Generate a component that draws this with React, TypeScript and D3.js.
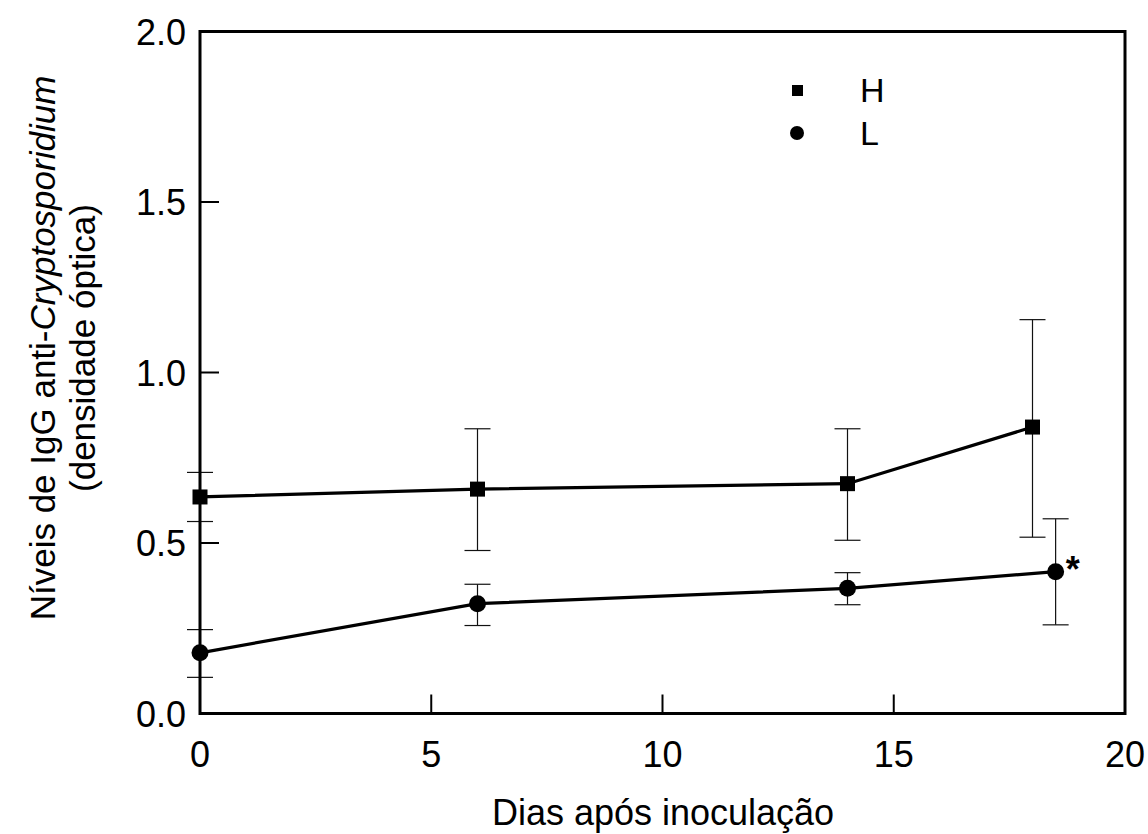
import React from "react";
import * as d3 from "d3";

// Days after inoculation and mean IgG optical density, with SD bounds
const daysH = [0, 6, 14, 18];
const meanH = [0.635, 0.658, 0.674, 0.84];
const lowH = [0.563, 0.478, 0.508, 0.517];
const highH = [0.707, 0.835, 0.835, 1.155];

const daysL = [0, 6, 14, 18.5];
const meanL = [0.178, 0.322, 0.367, 0.416];
const lowL = [0.106, 0.258, 0.319, 0.26];
const highL = [0.246, 0.379, 0.413, 0.571];

const xTicks = [0, 5, 10, 15, 20];
const yTicks = [0, 0.5, 1.0, 1.5, 2.0];
const legendLabels = ["H", "L"];

const W = 1148;
const H = 834;
const FONT = "'Liberation Sans', Arial, Helvetica, sans-serif";

export default function App() {
  const x = d3.scaleLinear().domain([0, 20]).range([200, 1125]);
  const y = d3.scaleLinear().domain([0, 2]).range([713.5, 31.5]);

  const line = d3
    .line<[number, number]>()
    .x((d) => x(d[0]))
    .y((d) => y(d[1]));

  const ptsH: [number, number][] = daysH.map((d, i) => [d, meanH[i]]);
  const ptsL: [number, number][] = daysL.map((d, i) => [d, meanL[i]]);

  const capW = 13;
  const errBars = (days: number[], lo: number[], hi: number[], key: string) =>
    days.map((d, i) => {
      const cx = x(d);
      return (
        <g key={key + i} stroke="#111" strokeWidth={1.2}>
          <line x1={cx} x2={cx} y1={y(lo[i])} y2={y(hi[i])} />
          <line x1={cx - capW} x2={cx + capW} y1={y(lo[i])} y2={y(lo[i])} />
          <line x1={cx - capW} x2={cx + capW} y1={y(hi[i])} y2={y(hi[i])} />
        </g>
      );
    });

  const sq = 15;
  const lastL = ptsL[ptsL.length - 1];

  return (
    <svg width={W} height={H} style={{ display: "block", position: "absolute", left: 0, top: 0, background: "#fff" }}>
      <rect x={0} y={0} width={W} height={H} fill="#fff" />

      {/* error bars */}
      {errBars(daysH, lowH, highH, "h")}
      {errBars(daysL, lowL, highL, "l")}

      {/* series lines */}
      <path d={line(ptsH) || ""} fill="none" stroke="#000" strokeWidth={3.2} />
      <path d={line(ptsL) || ""} fill="none" stroke="#000" strokeWidth={3.2} />

      {/* markers */}
      {ptsH.map((p, i) => (
        <rect key={"mh" + i} x={x(p[0]) - sq / 2} y={y(p[1]) - sq / 2} width={sq} height={sq} fill="#000" />
      ))}
      {ptsL.map((p, i) => (
        <circle key={"ml" + i} cx={x(p[0])} cy={y(p[1])} r={8.5} fill="#000" />
      ))}

      {/* significance mark */}
      <text x={x(lastL[0]) + 10} y={y(lastL[1]) + 10} fontFamily={FONT} fontSize={36} fontWeight="bold">*</text>

      {/* frame */}
      <rect x={200} y={y(2)} width={925} height={y(0) - y(2)} fill="none" stroke="#000" strokeWidth={3} />

      {/* inward ticks */}
      {xTicks.slice(1, -1).map((t) => (
        <line key={"xt" + t} x1={x(t)} x2={x(t)} y1={y(0)} y2={y(0) - 19} stroke="#000" strokeWidth={2} />
      ))}
      {yTicks.slice(1, -1).map((t) => (
        <line key={"yt" + t} x1={200} x2={219} y1={y(t)} y2={y(t)} stroke="#000" strokeWidth={2} />
      ))}

      {/* tick labels */}
      {xTicks.map((t) => (
        <text key={"xl" + t} x={x(t)} y={767} textAnchor="middle" fontFamily={FONT} fontSize={36}>{t}</text>
      ))}
      {yTicks.map((t) => (
        <text key={"yl" + t} x={186} y={y(t) + 13} textAnchor="end" fontFamily={FONT} fontSize={36}>{t.toFixed(1)}</text>
      ))}

      {/* axis titles */}
      <text x={663} y={825} textAnchor="middle" fontFamily={FONT} fontSize={36}>Dias após inoculação</text>
      <g transform="translate(0,348) rotate(-90)" fontFamily={FONT} fontSize={35} textAnchor="middle">
        <text x={0} y={55}>Níveis de IgG anti-<tspan fontStyle="italic">Cryptosporidium</tspan></text>
        <text x={0} y={95}>(densidade óptica)</text>
      </g>

      {/* legend */}
      <rect x={792} y={85} width={11} height={11} fill="#000" />
      <circle cx={797} cy={133} r={7} fill="#000" />
      {legendLabels.map((lab, i) => (
        <text key={lab} x={860} y={102 + i * 43} fontFamily={FONT} fontSize={34}>{lab}</text>
      ))}
    </svg>
  );
}
